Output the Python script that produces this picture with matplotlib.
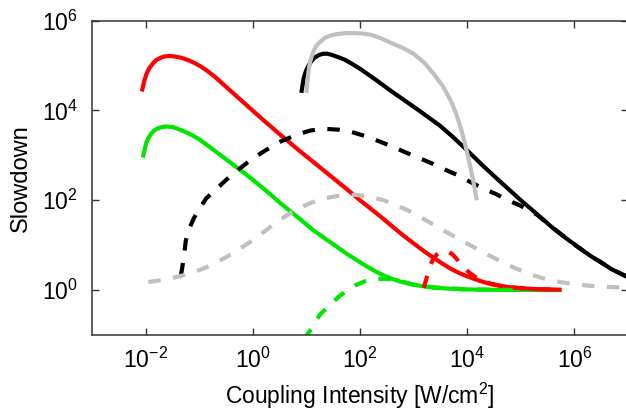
import matplotlib
matplotlib.use("Agg")
import matplotlib.pyplot as plt
import numpy as np

plt.rcParams['font.family'] = ['Liberation Sans', 'DejaVu Sans']
plt.rcParams['mathtext.fontset'] = 'custom'
plt.rcParams['mathtext.rm'] = 'Liberation Sans'
plt.rcParams['mathtext.it'] = 'Liberation Sans:italic'

# curves, stored as log10(intensity) / log10(slowdown)
red_x = [-2.07, -2.02, -1.97, -1.93, -1.86, -1.8, -1.72, -1.65, -1.55, -1.46, -1.33, -1.21,
         -1.08, -0.96, -0.84, -0.71, -0.42, -0.11, 0.2, 0.51, 0.82, 1.13, 1.44, 1.75, 2.0,
         2.2, 2.4, 2.6, 2.75, 3.0, 3.2, 3.37, 3.55, 3.7, 3.85, 3.99, 4.15, 4.3, 4.45, 4.61,
         4.8, 5.0, 5.3, 5.76]
red_y = [4.42, 4.68, 4.85, 4.94, 5.05, 5.12, 5.17, 5.2, 5.21, 5.2, 5.17, 5.12,
         5.05, 4.97, 4.87, 4.75, 4.44, 4.11, 3.78, 3.46, 3.15, 2.85, 2.55, 2.25, 2.0,
         1.81, 1.62, 1.42, 1.27, 1.04, 0.86, 0.72, 0.58, 0.47, 0.38, 0.31, 0.24, 0.18, 0.13, 0.095,
         0.063, 0.041, 0.021, 0.008]

green_x = [-2.05, -1.99, -1.94, -1.89, -1.83, -1.77, -1.69, -1.61, -1.5, -1.4, -1.28, -1.15,
           -1.02, -0.9, -0.71, -0.42, -0.11, 0.2, 0.51, 0.88, 1.13, 1.5, 1.75, 2.0, 2.12,
           2.3, 2.45, 2.6, 2.75, 3.0, 3.2, 3.37, 3.7, 3.99, 4.5, 5.0, 5.76]
green_y = [2.95, 3.27, 3.4, 3.49, 3.56, 3.6, 3.63, 3.64, 3.63, 3.59, 3.53, 3.46,
           3.37, 3.27, 3.1, 2.84, 2.56, 2.26, 1.94, 1.58, 1.33, 1.02, 0.81, 0.62, 0.53,
           0.41, 0.32, 0.25, 0.19, 0.12, 0.08, 0.055, 0.028, 0.015, 0.005, 0.002, 0.0]

black_x = [0.905, 0.95, 0.99, 1.03, 1.09, 1.15, 1.23, 1.31, 1.39, 1.46, 1.58, 1.71, 1.86,
           2.02, 2.33, 2.58, 2.75, 3.12, 3.49, 3.74, 3.99, 4.3, 4.61, 5.0, 5.36, 5.6, 5.86,
           6.1, 6.3, 6.48, 6.7, 6.96, 7.05]
black_y = [4.39, 4.72, 4.87, 4.98, 5.09, 5.17, 5.23, 5.26, 5.26, 5.24, 5.19, 5.13, 5.03,
           4.91, 4.65, 4.43, 4.29, 3.98, 3.66, 3.4, 3.12, 2.76, 2.42, 2.0, 1.63, 1.38, 1.14,
           0.93, 0.76, 0.63, 0.46, 0.31, 0.27]

gray_x = [1.0, 1.02, 1.04, 1.06, 1.09, 1.13, 1.18, 1.26, 1.34, 1.46, 1.59, 1.75, 1.9, 2.05,
          2.21, 2.4, 2.58, 2.8, 3.0, 3.2, 3.37, 3.55, 3.68, 3.78, 3.87, 3.95, 4.02, 4.08,
          4.13, 4.16, 4.18]
gray_y = [4.39, 4.65, 4.87, 5.03, 5.17, 5.3, 5.43, 5.53, 5.61, 5.67, 5.7, 5.72, 5.72, 5.71,
          5.68, 5.6, 5.5, 5.39, 5.26, 5.06, 4.82, 4.53, 4.25, 3.97, 3.65, 3.3, 2.95, 2.62,
          2.32, 2.12, 2.0]

red_d_x = [3.19, 3.25, 3.31, 3.37, 3.44, 3.5, 3.57, 3.64, 3.72, 3.8, 3.88, 3.96, 4.05,
           4.15, 4.3, 4.45, 4.61, 4.8, 5.0, 5.3, 5.76]
red_d_y = [0.05, 0.3, 0.55, 0.7, 0.8, 0.85, 0.87, 0.86, 0.8, 0.7, 0.58, 0.47, 0.38,
           0.29, 0.2, 0.14, 0.1, 0.065, 0.042, 0.021, 0.008]

green_d_x = [0.95, 1.1, 1.25, 1.44, 1.6, 1.75, 1.9, 2.1, 2.3, 2.5, 2.75, 3.0, 3.37, 3.99, 5.0]
green_d_y = [-1.1, -0.85, -0.55, -0.33, -0.15, -0.02, 0.1, 0.2, 0.25, 0.25, 0.2, 0.12, 0.06, 0.015, 0.003]

black_d_x = [-1.34, -1.31, -1.28, -1.25, -1.19, -1.1, -1.0, -0.87, -0.68, -0.49, -0.3, -0.11,
             0.13, 0.32, 0.51, 0.82, 1.07, 1.32, 1.6, 1.84, 2.09, 2.34, 2.59, 2.84, 3.06,
             3.34, 3.55, 3.8, 4.05, 4.3, 4.55, 4.74, 4.99, 5.3, 5.6, 5.86, 6.1, 6.3, 6.48,
             6.7, 6.96, 7.05]
black_d_y = [0.33, 0.55, 0.8, 1.1, 1.35, 1.6, 1.8, 2.04, 2.25, 2.46, 2.65, 2.83,
             3.03, 3.17, 3.3, 3.46, 3.55, 3.59, 3.57, 3.52, 3.43, 3.32, 3.2, 3.07, 2.96,
             2.82, 2.7, 2.57, 2.41, 2.26, 2.13, 2.01, 1.88, 1.68, 1.38, 1.14, 0.93, 0.76, 0.63,
             0.46, 0.31, 0.27]

gray_d_x = [-1.95, -1.7, -1.42, -1.17, -0.92, -0.7, -0.46, -0.24, 0.0, 0.2, 0.41, 0.63, 0.88,
            1.1, 1.38, 1.6, 1.91, 2.13, 2.44, 2.66, 2.9, 3.1, 3.37, 3.55, 3.8, 3.99, 4.24,
            4.46, 4.71, 4.93, 5.2, 5.42, 5.67, 5.89, 6.23, 6.48, 6.73, 6.96, 7.1]
gray_d_y = [0.18, 0.22, 0.29, 0.37, 0.48, 0.6, 0.76, 0.92, 1.11, 1.29, 1.48, 1.66, 1.83,
            1.95, 2.05, 2.1, 2.12, 2.09, 2.0, 1.9, 1.77, 1.64, 1.46, 1.33, 1.17, 1.04, 0.88,
            0.74, 0.59, 0.47, 0.34, 0.26, 0.19, 0.15, 0.1, 0.08, 0.065, 0.055, 0.05]

RED = '#ff0000'
GREEN = '#00e600'
GRAY = '#c0c0c0'
lw = 3.0
dash = (3.0, 3.0)

fig = plt.figure(figsize=(6.26, 4.17), dpi=100)
ax = fig.add_axes([92 / 626, 1 - 335 / 417, 536 / 626, 314.5 / 417])

def draw(xs, ys, color, dashed=False):
    x = 10 ** np.array(xs)
    y = 10 ** np.array(ys)
    if dashed:
        ax.plot(x, y, color=color, lw=lw, dashes=dash, solid_capstyle='butt')
    else:
        ax.plot(x, y, color=color, lw=lw, solid_capstyle='butt', solid_joinstyle='round')

draw(green_x, green_y, GREEN)
draw(red_x, red_y, RED)
draw(black_x, black_y, 'black')
draw(green_d_x, green_d_y, GREEN, dashed=True)
draw(red_d_x, red_d_y, RED, dashed=True)
draw(black_d_x, black_d_y, 'black', dashed=True)
draw(gray_d_x, gray_d_y, GRAY, dashed=True)
draw(gray_x, gray_y, GRAY)

ax.set_xscale('log')
ax.set_yscale('log')
ax.set_xlim(1e-3, 1e7)
ax.set_ylim(1e-1, 1e6)
ax.set_xticks([1e-2, 1e0, 1e2, 1e4, 1e6])
ax.set_yticks([1e0, 1e2, 1e4, 1e6])
ax.minorticks_off()
ax.tick_params(direction='in', top=True, right=True, length=5, width=1,
               labelsize=16.5, color='#333333')
ax.tick_params(axis='x', pad=9)
ax.tick_params(axis='y', pad=10)
for s in ax.spines.values():
    s.set_linewidth(1.1)
    s.set_color('#333333')

ax.set_xlabel('Coupling Intensity [W/cm$^2$]', fontsize=16.5, labelpad=6)
ax.set_ylabel('Slowdown', fontsize=17, labelpad=7)

fig.savefig('out.png', dpi=100)
